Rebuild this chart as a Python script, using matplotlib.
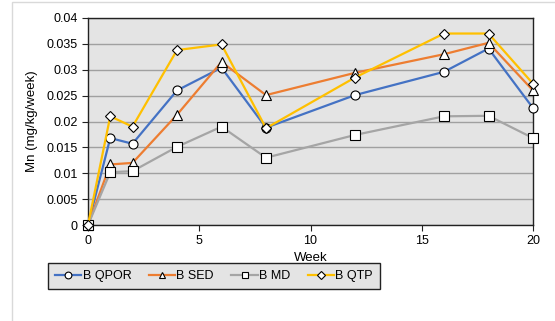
import matplotlib.pyplot as plt
from matplotlib.patches import Rectangle

plt.rcParams['font.family'] = ['Liberation Sans', 'DejaVu Sans']

weeks = [0, 1, 2, 4, 6, 8, 12, 16, 18, 20]
qpor = [0, 0.0168, 0.0157, 0.0260, 0.0304, 0.0188, 0.0251, 0.0296, 0.0341, 0.0226]
sed = [0, 0.0117, 0.0120, 0.0213, 0.0315, 0.0251, 0.0294, 0.0330, 0.0352, 0.0260]
md = [0, 0.0102, 0.0104, 0.0151, 0.0190, 0.0130, 0.0174, 0.0210, 0.0211, 0.0168]
qtp = [0, 0.0210, 0.0190, 0.0338, 0.0349, 0.0187, 0.0285, 0.0370, 0.0370, 0.0273]

series = [("B QPOR", qpor, "#4472C4", "o"),
          ("B SED", sed, "#ED7D31", "^"),
          ("B MD", md, "#A5A5A5", "s"),
          ("B QTP", qtp, "#FFC000", "D")]

fig = plt.figure(figsize=(5.55, 3.21), dpi=100)
# outer chart frame
fig.patches.append(Rectangle((12/555, -0.05), 1, 1 - 2/321 + 0.05, transform=fig.transFigure,
                             fill=False, edgecolor="#d9d9d9", linewidth=1))

ax = fig.add_axes([88/555, 1 - 225/321, 445/555, 207/321])
ax.set_facecolor("#e4e4e4")

for name, vals, col, mk in series:
    ms = 5 if mk == "D" else 6.5
    ax.plot(weeks, vals, color=col, lw=1.6, marker=mk, markersize=ms,
            markerfacecolor="white", markeredgecolor="black", markeredgewidth=0.8,
            label=name, clip_on=False, zorder=3)

ax.set_xlim(0, 20)
ax.set_ylim(0, 0.04)
ax.set_xticks([0, 5, 10, 15, 20])
ax.set_yticks([0, 0.005, 0.01, 0.015, 0.02, 0.025, 0.03, 0.035, 0.04])
ax.set_yticklabels(["0", "0.005", "0.01", "0.015", "0.02", "0.025", "0.03", "0.035", "0.04"])
ax.yaxis.grid(True, color="#a0a0a0", lw=1)
ax.set_axisbelow(True)
for s in ax.spines.values():
    s.set_color("#222222")
    s.set_linewidth(1)
ax.tick_params(labelsize=9, direction="out", length=4, color="#222222")
ax.set_xlabel("Week", fontsize=9.5, labelpad=3)
ax.set_ylabel("Mn (mg/kg/week)", fontsize=9.5, labelpad=6)

leg = fig.legend(loc="upper left", bbox_to_anchor=(42/555, 1 - 257/321), ncol=4,
                 fontsize=9, frameon=True, fancybox=False, edgecolor="#222222",
                 facecolor="#e4e4e4", framealpha=1, handlelength=2.1, markerscale=0.75,
                 columnspacing=1.4, handletextpad=0.1, borderpad=0.55)
leg.get_frame().set_linewidth(1)

fig.savefig("out.png", dpi=100)
